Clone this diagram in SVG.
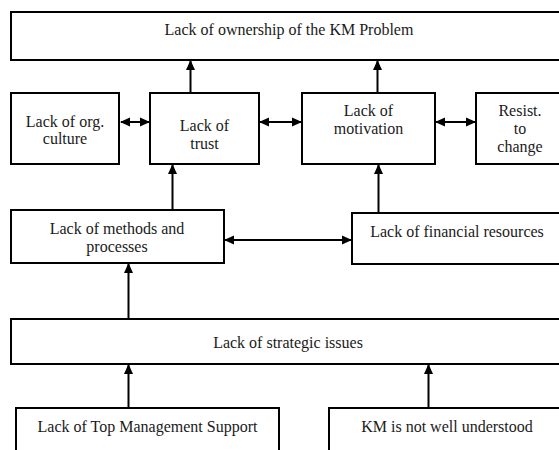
<svg xmlns="http://www.w3.org/2000/svg" width="559" height="450" viewBox="0 0 559 450">
<defs>
<style>
.box{fill:#fff;stroke:#000;stroke-width:2}
.t{font-family:'Liberation Serif','DejaVu Serif',serif;font-size:16px;fill:#1a1a1a;text-anchor:middle}
.c{stroke:#000;stroke-width:2;fill:none}
</style>
<marker id="ah" viewBox="0 0 10 10" refX="9" refY="5" markerWidth="10" markerHeight="10" markerUnits="userSpaceOnUse" orient="auto-start-reverse">
<path d="M0,0.5 L10,5 L0,9.5 Z" fill="#000"/>
</marker>
</defs>
<rect width="559" height="450" fill="#fff"/>
<g id="connectors">
<line class="c" x1="190.5" y1="93" x2="190.5" y2="61" marker-end="url(#ah)"/>
<line class="c" x1="377.5" y1="93" x2="377.5" y2="61" marker-end="url(#ah)"/>
<line class="c" x1="121" y1="122" x2="149" y2="122" marker-start="url(#ah)" marker-end="url(#ah)"/>
<line class="c" x1="260" y1="122" x2="301" y2="122" marker-start="url(#ah)" marker-end="url(#ah)"/>
<line class="c" x1="436" y1="122" x2="475" y2="122" marker-start="url(#ah)" marker-end="url(#ah)"/>
<line class="c" x1="172.5" y1="210" x2="172.5" y2="165" marker-end="url(#ah)"/>
<line class="c" x1="378.5" y1="213" x2="378.5" y2="165" marker-end="url(#ah)"/>
<line class="c" x1="225" y1="240" x2="351" y2="240" marker-start="url(#ah)" marker-end="url(#ah)"/>
<line class="c" x1="128.5" y1="319" x2="128.5" y2="264" marker-end="url(#ah)"/>
<line class="c" x1="128.5" y1="408" x2="128.5" y2="365" marker-end="url(#ah)"/>
<line class="c" x1="428.5" y1="408" x2="428.5" y2="365" marker-end="url(#ah)"/>
</g>
<g id="n-ownership">
<rect class="box" x="11" y="12" width="560" height="48"/>
<text class="t" x="289" y="35" font-family="Liberation Serif, serif">Lack of ownership of the KM Problem</text>
</g>
<g id="n-culture">
<rect class="box" x="11" y="93" width="108" height="71"/>
<text class="t" x="65" y="127">Lack of org.</text>
<text class="t" x="65" y="144">culture</text>
</g>
<g id="n-trust">
<rect class="box" x="150" y="93" width="109" height="71"/>
<text class="t" x="204.5" y="131">Lack of</text>
<text class="t" x="204.5" y="149">trust</text>
</g>
<g id="n-motivation">
<rect class="box" x="302" y="93" width="133" height="71"/>
<text class="t" x="368.5" y="116">Lack of</text>
<text class="t" x="368.5" y="134">motivation</text>
</g>
<g id="n-resist">
<rect class="box" x="476" y="93" width="100" height="71"/>
<text class="t" x="520" y="116">Resist.</text>
<text class="t" x="520" y="134">to</text>
<text class="t" x="520" y="152">change</text>
</g>
<g id="n-methods">
<rect class="box" x="11" y="210" width="213" height="53"/>
<text class="t" x="117" y="234">Lack of methods and</text>
<text class="t" x="117" y="252">processes</text>
</g>
<g id="n-financial">
<rect class="box" x="352" y="213" width="220" height="51"/>
<text class="t" x="457" y="237">Lack of financial resources</text>
</g>
<g id="n-strategic">
<rect class="box" x="11" y="319" width="560" height="45"/>
<text class="t" x="288" y="348">Lack of strategic issues</text>
</g>
<g id="n-topmgmt">
<rect class="box" x="16" y="408" width="263" height="60"/>
<text class="t" x="147.5" y="432">Lack of Top Management Support</text>
</g>
<g id="n-km">
<rect class="box" x="329" y="408" width="250" height="60"/>
<text class="t" x="447" y="432">KM is not well understood</text>
</g>
</svg>
